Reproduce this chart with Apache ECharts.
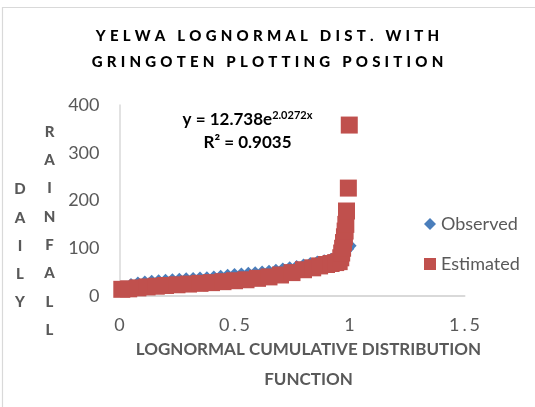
<!DOCTYPE html>
<html>
<head>
    <meta charset="UTF-8">
    <title>Yelwa lognormal</title>
    <script src="https://cdn.jsdelivr.net/npm/echarts@6/dist/echarts.min.js"></script>
    <style>
        html, body { margin: 0; padding: 0; background: #fff; }
    </style>
</head>
<body>
<div id="main" style="width: 535px;height:407px;"></div>
<script type="text/javascript">
    // values
    var titleLines = ['YELWA LOGNORMAL DIST. WITH', 'GRINGOTEN PLOTTING POSITION'];
    var xTicks = [0, 0.5, 1, 1.5];
    var yTicks = [0, 100, 200, 300, 400];

    // observed (sorted rainfall vs plotting position)
    var obsX = [0.02, 0.05, 0.08, 0.11, 0.14, 0.17, 0.20, 0.23, 0.26, 0.29, 0.32, 0.35,
                0.38, 0.41, 0.44, 0.47, 0.50, 0.53, 0.56, 0.59, 0.62, 0.65, 0.68, 0.71,
                0.74, 0.77, 0.80, 0.83, 0.86, 0.89, 0.92, 0.95, 0.97, 0.985, 0.995, 1.005];
    var obsY = [18, 25, 28.5, 30.5, 32, 33, 34, 35, 36, 37, 37.8, 38.5,
                39.5, 41, 42.5, 44.5, 46, 47, 48.5, 50, 51.5, 53, 55, 57.5,
                60, 63, 66, 69, 72.5, 75, 78, 83, 88, 94, 99, 105];

    // estimated (lognormal)
    var estX = [0.01, 0.04, 0.08, 0.12, 0.16, 0.20, 0.25, 0.30, 0.35, 0.40, 0.45, 0.50,
                0.55, 0.60, 0.65, 0.70, 0.75, 0.80, 0.84, 0.87, 0.90, 0.92, 0.94, 0.955,
                0.962, 0.966, 0.970, 0.974, 0.978, 0.981, 0.984, 0.987, 0.995, 0.999];
    var estY = [14, 15, 17, 19, 20.5, 22, 23.5, 25, 26.5, 28, 30, 32,
                34, 37, 40, 44, 49, 55, 59, 63, 66, 68, 70, 72,
                80, 90, 100, 112, 124, 136, 150, 178, 226, 358];

    var eqMain = 'y = 12.738e';
    var eqExp = '2.0272x';
    var eqR2 = 'R² = 0.9035';

    function pairs(xs, ys) {
        var out = [];
        for (var i = 0; i < xs.length; i++) out.push([xs[i], ys[i]]);
        return out;
    }
    // letter spaced text, each char its own rich token
    function spaced(s) {
        return s.split('').map(function (c) { return '{c|' + c + '}'; }).join('');
    }

    var grey = '#595959';
    var myChart = echarts.init(document.getElementById('main'));

    option = {
        animation: false,
        backgroundColor: '#fff',
        grid: { left: 119.5, right: 70.5, top: 105, bottom: 111, containLabel: false },
        legend: {
            orient: 'vertical',
            left: 419,
            top: 209,
            itemWidth: 12,
            itemHeight: 12,
            itemGap: 20,
            textStyle: { fontFamily: 'Lato', fontSize: 18, color: grey, lineHeight: 20 },
            data: [{ name: 'Observed', icon: 'diamond' }, { name: 'Estimated', icon: 'rect' }]
        },
        xAxis: {
            type: 'value',
            min: xTicks[0],
            max: xTicks[xTicks.length - 1],
            interval: 0.5,
            splitLine: { show: false },
            axisTick: { show: false },
            axisLine: { lineStyle: { color: '#d9d9d9', width: 2 } },
            axisLabel: {
                margin: 20,
                fontFamily: 'Lato',
                fontSize: 18,
                color: grey,
                formatter: function (v) {
                    return String(v).replace('.', '{p|.}');
                },
                rich: { p: { fontFamily: 'Lato', fontSize: 18, color: grey, padding: [0, 3] } }
            }
        },
        yAxis: {
            type: 'value',
            min: yTicks[0],
            max: yTicks[yTicks.length - 1],
            interval: 100,
            splitLine: { show: false },
            axisTick: { show: false },
            axisLine: { show: true, lineStyle: { color: '#d9d9d9', width: 1.5 } },
            axisLabel: { margin: 20, fontFamily: 'Lato', fontSize: 18, color: grey }
        },
        graphic: [
            {
                type: 'rect',
                shape: { x: 2.5, y: 7.5, width: 600, height: 500 },
                style: { fill: 'none', stroke: '#d9d9d9', lineWidth: 1.2 },
                silent: true
            },
            {
                type: 'text',
                x: 267.5, y: 49.5,
                style: {
                    text: spaced(titleLines[0]) + '\n' + spaced(titleLines[1]),
                    align: 'center', verticalAlign: 'middle',
                    rich: { c: { fontFamily: 'Lato', fontWeight: 900, fontSize: 15, color: grey, padding: [0, 2.1], lineHeight: 26 } }
                }
            },
            {
                type: 'text',
                x: 247.5, y: 131.5,
                style: {
                    text: '{b|' + eqMain + '}{s|' + eqExp + '}\n{b|' + eqR2 + '}',
                    align: 'center', verticalAlign: 'middle',
                    rich: {
                        b: { fontFamily: 'Lato', fontWeight: 'bold', fontSize: 17, color: '#404040', lineHeight: 23 },
                        s: { fontFamily: 'Lato', fontWeight: 'bold', fontSize: 11, color: '#404040', padding: [0, 0, 10, 0] }
                    }
                }
            },
            {
                type: 'text',
                x: 20, y: 246,
                style: {
                    text: 'DAILY'.split('').join('\n'),
                    align: 'center', verticalAlign: 'middle',
                    fontFamily: 'Lato', fontWeight: 900, fontSize: 15, lineHeight: 28.3, fill: grey
                }
            },
            {
                type: 'text',
                x: 49.5, y: 231,
                style: {
                    text: 'RAINFALL'.split('').join('\n'),
                    align: 'center', verticalAlign: 'middle',
                    fontFamily: 'Lato', fontWeight: 900, fontSize: 15, lineHeight: 28.3, fill: grey
                }
            },
            {
                type: 'text',
                x: 308.5, y: 365,
                style: {
                    text: 'LOGNORMAL CUMULATIVE DISTRIBUTION\nFUNCTION',
                    align: 'center', verticalAlign: 'middle',
                    fontFamily: 'Lato', fontWeight: 'bold', fontSize: 17, lineHeight: 30, fill: grey
                }
            }
        ],
        series: [
            {
                name: 'Observed',
                type: 'scatter',
                symbol: 'diamond',
                symbolSize: 12,
                itemStyle: { color: '#4a7ebb', opacity: 1 },
                emphasis: { disabled: true },
                data: pairs(obsX, obsY)
            },
            {
                name: 'Estimated',
                type: 'scatter',
                symbol: 'rect',
                symbolSize: 17,
                itemStyle: { color: '#c0504d', opacity: 1 },
                emphasis: { disabled: true },
                data: pairs(estX, estY)
            }
        ]
    };
    myChart.setOption(option);
</script>
</body>
</html>
